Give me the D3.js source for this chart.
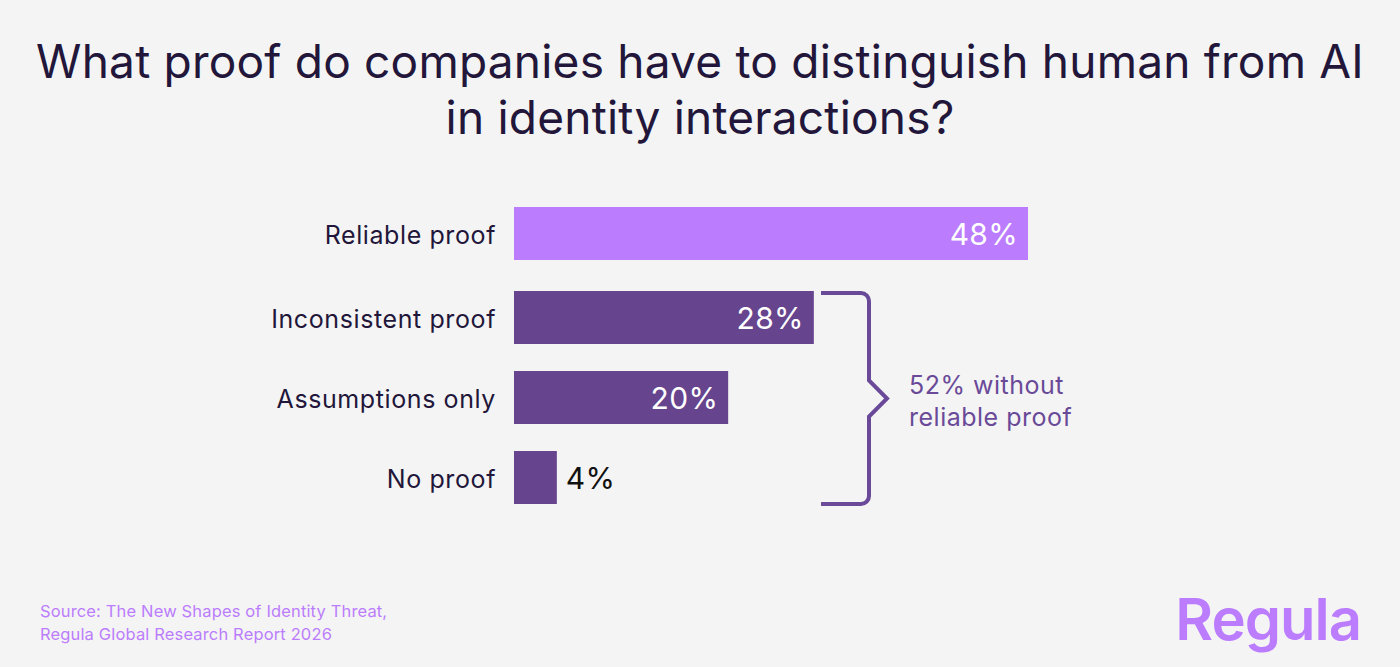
<!DOCTYPE html>
<html>
<head>
  <meta charset="UTF-8">
  <title>Proof to distinguish human from AI</title>
  <style>
    body { margin: 0; background: #f4f4f4; }
    svg { display: block; }
    text { font-family: Inter, "Noto Sans", sans-serif; }
  </style>
</head>
<body>
  <div id="chart"></div>
  <script src="https://d3js.org/d3.v7.min.js"></script>
  <script>
    // data
    const categories = ["Reliable proof", "Inconsistent proof", "Assumptions only", "No proof"];
    const values = [48, 28, 20, 4];
    const titleLines = ["What proof do companies have to distinguish human from AI", "in identity interactions?"];
    const bracketNote = ["52% without", "reliable proof"];
    const sourceLines = ["Source: The New Shapes of Identity Threat,", "Regula Global Research Report 2026"];

    const width = 1400, height = 667;
    const light = "#bb7dfd", dark = "#66448e", ink = "#22163a";

    const svg = d3.select("#chart").append("svg")
      .attr("width", width)
      .attr("height", height);

    svg.append("rect").attr("width", width).attr("height", height).attr("fill", "#f4f4f4");

    // title
    const title = svg.append("g").attr("fill", ink).attr("text-anchor", "middle");
    title.selectAll("text")
      .data(titleLines)
      .enter().append("text")
      .attr("x", width / 2)
      .attr("y", (d, i) => 78 + i * 56)
      .attr("font-size", 44)
      .attr("letter-spacing", 0.2)
      .text(d => d);
    // fit the first line to the width it takes in the picture
    const w0 = title.select("text").node().getComputedTextLength();
    title.selectAll("text").attr("font-size", 44 * 1329 / w0);

    const x = d3.scaleLinear().domain([0, 48]).range([514, 1028]);
    const y = d3.scaleBand().domain(categories).range([211, 504]).paddingInner(0.3375).paddingOuter(0);
    // the highlighted bar sits a little further from the rest
    const rowY = d => y(d) - (d === categories[0] ? 4 : 0);

    const rows = svg.selectAll(".row")
      .data(categories)
      .enter().append("g")
      .attr("class", "row");

    rows.append("rect")
      .attr("x", x(0))
      .attr("y", d => rowY(d))
      .attr("width", (d, i) => x(values[i]) - x(0))
      .attr("height", y.bandwidth())
      .attr("fill", (d, i) => i === 0 ? light : dark);

    rows.append("text")
      .attr("x", x(0) - 18)
      .attr("y", d => rowY(d) + y.bandwidth() / 2)
      .attr("dy", "0.42em")
      .attr("text-anchor", "end")
      .attr("font-size", 25)
      .attr("letter-spacing", 0.6)
      .attr("fill", ink)
      .text(d => d);

    rows.append("text")
      .attr("x", (d, i) => values[i] < 10 ? x(values[i]) + 9 : x(values[i]) - 10)
      .attr("y", d => rowY(d) + y.bandwidth() / 2)
      .attr("dy", "0.38em")
      .attr("text-anchor", (d, i) => values[i] < 10 ? "start" : "end")
      .attr("font-size", 30)
      .attr("letter-spacing", 0.3)
      .attr("fill", (d, i) => values[i] < 10 ? "#111" : "#fff")
      .text((d, i) => values[i] + "%");

    // bracket around the last three bars
    const bTop = y(categories[1]) + 2, bBot = y(categories[3]) + y.bandwidth();
    const bx0 = 821, bx1 = 869, r = 8, tip = 887, mid = (bTop + bBot) / 2;
    const p = d3.path();
    p.moveTo(bx0, bTop);
    p.lineTo(bx1 - r, bTop);
    p.arcTo(bx1, bTop, bx1, bTop + r, r);
    p.lineTo(bx1, mid - 18);
    p.lineTo(tip, mid);
    p.lineTo(bx1, mid + 18);
    p.lineTo(bx1, bBot - r);
    p.arcTo(bx1, bBot, bx1 - r, bBot, r);
    p.lineTo(bx0, bBot);
    svg.append("path")
      .attr("d", p.toString())
      .attr("fill", "none")
      .attr("stroke", "#6a4a98")
      .attr("stroke-width", 4);

    svg.append("g").selectAll("text")
      .data(bracketNote)
      .enter().append("text")
      .attr("x", 909)
      .attr("y", (d, i) => mid - 5 + i * 32)
      .attr("font-size", 25)
      .attr("letter-spacing", 0.5)
      .attr("fill", "#6a4a98")
      .text(d => d);

    // source
    svg.append("g").selectAll("text")
      .data(sourceLines)
      .enter().append("text")
      .attr("x", 40)
      .attr("y", (d, i) => 617 + i * 23)
      .attr("font-size", 16.5)
      .attr("letter-spacing", 0.15)
      .attr("fill", light)
      .text(d => d);

    // logo
    svg.append("text")
      .attr("x", 1361)
      .attr("y", 640)
      .attr("text-anchor", "end")
      .attr("font-size", 58)
      .attr("font-weight", 600)
      .attr("letter-spacing", -1)
      .attr("fill", light)
      .text("Regula");
  </script>
</body>
</html>
